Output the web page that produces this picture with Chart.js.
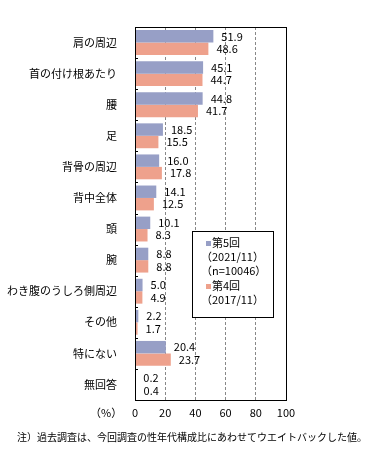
<!DOCTYPE html>
<html>
<head>
<meta charset="utf-8">
<script src="https://cdn.jsdelivr.net/npm/chart.js@4"></script>
<style>
  html, body { margin: 0; padding: 0; background: #fff; }
  #wrap { position: relative; width: 368px; height: 476px; }
</style>
</head>
<body>
<div id="wrap"><canvas id="chart" width="368" height="476"></canvas></div>
<script>
  // Data
  const categories = [
    "肩の周辺", "首の付け根あたり", "腰", "足", "背骨の周辺", "背中全体",
    "頭", "腕", "わき腹のうしろ側周辺", "その他", "特にない", "無回答"
  ];
  const round5 = [51.9, 45.1, 44.8, 18.5, 16.0, 14.1, 10.1, 8.8, 5.0, 2.2, 20.4, 0.2];
  const round4 = [48.6, 44.7, 41.7, 15.5, 17.8, 12.5, 8.3, 8.8, 4.9, 1.7, 23.7, 0.4];
  const xTicks = [0, 20, 40, 60, 80, 100];
  const legend5 = ["第5回", "（2021/11）", "（n=10046）"];
  const legend4 = ["第4回", "（2017/11）"];

  const FONT = '"Noto Sans CJK JP", "Noto Sans", sans-serif';
  const blue = "#979fc6";
  const salmon = "#eea18c";

  // value labels to the right of each bar
  const valueLabels = {
    id: "valueLabels",
    afterDatasetsDraw(chart) {
      const ctx = chart.ctx;
      ctx.save();
      ctx.font = "11px " + FONT;
      ctx.fillStyle = "#000";
      ctx.textBaseline = "middle";
      ctx.textAlign = "left";
      chart.data.datasets.forEach((ds, i) => {
        chart.getDatasetMeta(i).data.forEach((bar, j) => {
          ctx.fillText(ds.data[j].toFixed(1), bar.x + 8, bar.y);
        });
      });
      ctx.restore();
    }
  };

  // plot border, category ticks, legend box, (%) and footnote
  const extras = {
    id: "extras",
    afterDraw(chart) {
      const ctx = chart.ctx;
      const a = chart.chartArea;
      const y = chart.scales.y;
      ctx.save();
      ctx.strokeStyle = "#000";
      ctx.lineWidth = 1;
      ctx.strokeRect(a.left + 0.5, a.top + 0.5, a.right - a.left, a.bottom - a.top);

      // small ticks between categories, inside the plot
      ctx.beginPath();
      for (let i = 1; i < categories.length; i++) {
        const py = Math.round((y.getPixelForValue(i - 1) + y.getPixelForValue(i)) / 2) + 0.5;
        ctx.moveTo(a.left, py);
        ctx.lineTo(a.left + 3, py);
      }
      ctx.stroke();

      // legend box
      const lx = 192, ly = 231, lw = 81, lh = 86;
      ctx.fillStyle = "#fff";
      ctx.fillRect(lx, ly, lw, lh);
      ctx.strokeRect(lx + 0.5, ly + 0.5, lw, lh);
      ctx.font = "11px " + FONT;
      ctx.textBaseline = "middle";
      ctx.textAlign = "left";
      ctx.fillStyle = blue;
      ctx.fillRect(206, 241, 5, 5);
      ctx.fillStyle = "#000";
      ctx.fillText(legend5[0], 212, 243);
      ctx.fillText(legend5[1], 201, 257);
      ctx.fillText(legend5[2], 201, 271);
      ctx.fillStyle = salmon;
      ctx.fillRect(206, 284, 5, 5);
      ctx.fillStyle = "#000";
      ctx.fillText(legend4[0], 212, 286);
      ctx.fillText(legend4[1], 201, 300);

      ctx.fillText("（%）", 90, 413);
      ctx.font = "10px " + FONT;
      ctx.fillText("注）過去調査は、今回調査の性年代構成比にあわせてウエイトバックした値。", 17, 437);
      ctx.restore();
    }
  };

  new Chart(document.getElementById("chart"), {
    type: "bar",
    data: {
      labels: categories,
      datasets: [
        { label: "第5回", data: round5, backgroundColor: blue },
        { label: "第4回", data: round4, backgroundColor: salmon }
      ]
    },
    options: {
      indexAxis: "y",
      responsive: false,
      animation: false,
      devicePixelRatio: 1,
      layout: { padding: { left: 0, right: 82, top: 27, bottom: 48 } },
      datasets: { bar: { categoryPercentage: 0.8, barPercentage: 1.0 } },
      plugins: { legend: { display: false }, tooltip: { enabled: false } },
      scales: {
        x: {
          min: 0,
          max: 100,
          afterFit(s) { s.height = 28; },
          afterBuildTicks(s) { s.ticks = xTicks.map(v => ({ value: v })); },
          grid: {
            color: "#888",
            tickLength: 0,
            drawTicks: false
          },
          border: { display: true, color: "#000", dash: [3, 2] },
          ticks: { color: "#000", font: { size: 11, family: FONT }, padding: 6 }
        },
        y: {
          afterFit(s) { s.width = 135; },
          grid: { display: false },
          border: { display: false },
          ticks: { color: "#000", font: { size: 11, family: FONT }, padding: 10 }
        }
      }
    },
    plugins: [valueLabels, extras]
  });
</script>
</body>
</html>
